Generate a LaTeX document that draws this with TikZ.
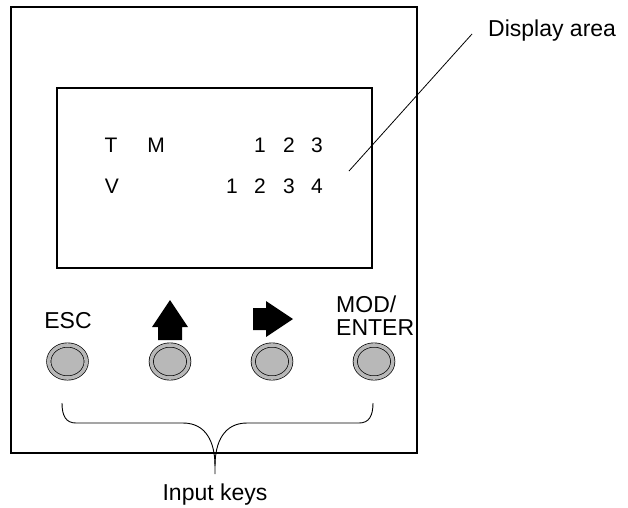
\documentclass[tikz,border=0pt]{standalone}
\usepackage{fontspec}
\setmainfont{Liberation Sans}
\usetikzlibrary{shapes.geometric}
\definecolor{btngray}{HTML}{B8B8B8}
\tikzset{
  frame/.style={draw=black, line width=1.4pt},
  lbl/.style={font=\fontsize{23}{25}\selectfont, inner sep=0pt, anchor=base},
  disp/.style={font=\fontsize{21}{23}\selectfont, inner sep=0pt, anchor=base},
  btn/.style={ellipse, draw=black, line width=0.7pt, double=btngray, double distance=3.6pt,
              fill=btngray, minimum width=37.5pt, minimum height=33pt, inner sep=0pt},
  keyarrow/.style={fill=black, draw=none},
  thin/.style={draw=black, line width=0.8pt},
}
\begin{document}
\begin{tikzpicture}[x=1pt, y=-1pt]
\useasboundingbox (0,0) rectangle (628,507);
% housing and display
\draw[frame] (11,7) rectangle (417,453);
\draw[frame] (57,88) rectangle (372,268);
% display text
\node[disp] (t)  at (111,152.5) {T};
\node[disp] (m)  at (156,152.5) {M};
\node[disp] (a1) at (260,152.5) {1};
\node[disp] (a2) at (289,152.5) {2};
\node[disp] (a3) at (317,152.5) {3};
\node[disp] (v)  at (112,193) {V};
\node[disp] (b1) at (232,193) {1};
\node[disp] (b2) at (260,193) {2};
\node[disp] (b3) at (289,193) {3};
\node[disp] (b4) at (317,193) {4};
% display label and leader
\node[lbl, anchor=base west] (dlabel) at (488,36) {Display area};
\coordinate (ldA) at (349,171);
\coordinate (ldB) at (472,34);
\draw[thin] (ldA) -- (ldB);
% key labels
\node[lbl] (esc) at (68,328) {ESC};
\draw[keyarrow] (152,327) -- (170,300) -- (188,327) -- (182,327) -- (182,340) -- (158,340) -- (158,327) -- cycle;
\draw[keyarrow] (253,308) -- (266,308) -- (266,301) -- (293,319) -- (266,337) -- (266,330) -- (253,330) -- cycle;
\node[lbl, anchor=base west] (mod) at (336,312) {MOD/};
\node[lbl, anchor=base west] (enter) at (336,335) {ENTER};
% buttons
\node[btn] (k1) at (67.5,361.5) {};
\node[btn] (k2) at (170,361.5) {};
\node[btn] (k3) at (272,361.5) {};
\node[btn] (k4) at (374,361.5) {};
% brace
\coordinate (brL) at (62,403);
\coordinate (brR) at (373,403);
\coordinate (tip) at (215,474);
\draw[thin, line width=0.9pt] (brL) .. controls (62,416) and (66,423) .. (76,423) -- (183,423)
   .. controls (206,423) and (215,442) .. (215,466) -- (tip);
\draw[thin, line width=0.9pt] (brR) .. controls (373,416) and (369,423) .. (359,423) -- (247,423)
   .. controls (224,423) and (215,442) .. (215,466);
\node[lbl] (inkeys) at (215,500) {Input keys};
\end{tikzpicture}
\end{document}
